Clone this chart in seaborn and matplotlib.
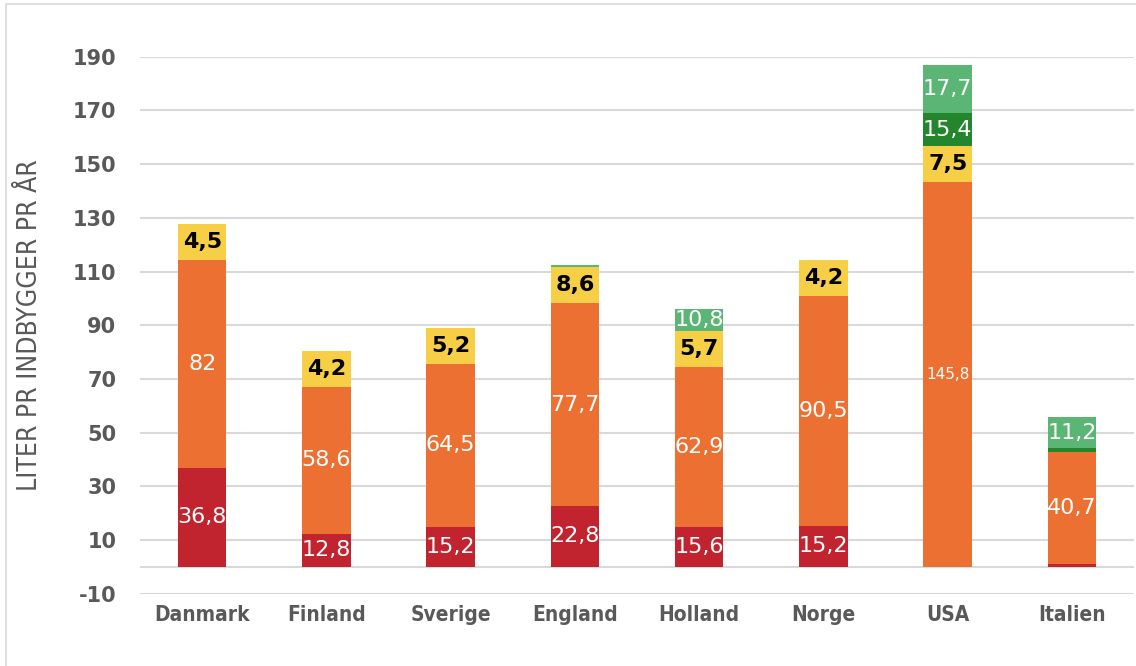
import numpy as np
import seaborn as sns
import matplotlib.pyplot as plt
from matplotlib.patches import Rectangle

countries = ['Danmark', 'Finland', 'Sverige', 'England', 'Holland', 'Norge', 'USA', 'Italien']

# segment heights as drawn in the picture (bottom -> top)
red = [37.0, 12.4, 15.0, 22.7, 15.0, 15.2, 0.0, 1.0]
orange = [77.3, 54.6, 60.5, 75.5, 59.4, 85.6, 143.3, 41.7]
yellow = [13.4, 13.4, 13.4, 13.5, 13.4, 13.5, 13.3, 0.0]
dark_green = [0.0, 0.0, 0.0, 0.0, 0.0, 0.0, 12.4, 1.6]
light_green = [0.0, 0.0, 0.0, 0.6, 8.4, 0.0, 17.9, 11.4]

# data labels as printed
red_lbl = ['36,8', '12,8', '15,2', '22,8', '15,6', '15,2', '', '']
orange_lbl = ['82', '58,6', '64,5', '77,7', '62,9', '90,5', '145,8', '40,7']
yellow_lbl = ['4,5', '4,2', '5,2', '8,6', '5,7', '4,2', '7,5', '']
dark_green_lbl = ['', '', '', '', '', '', '15,4', '']
light_green_lbl = ['', '', '', '', '10,8', '', '17,7', '11,2']

series = [
    (red, red_lbl, '#C1232F', 'white', 'normal'),
    (orange, orange_lbl, '#EC7032', 'white', 'normal'),
    (yellow, yellow_lbl, '#F6CF47', 'black', 'bold'),
    (dark_green, dark_green_lbl, '#23862C', 'white', 'normal'),
    (light_green, light_green_lbl, '#5BB574', 'white', 'normal'),
]

sns.set_style('white')
plt.rcParams['font.family'] = ['DejaVu Sans']
plt.rcParams['axes.unicode_minus'] = False

fig = plt.figure(figsize=(11.36, 6.66), dpi=100)
ax = fig.add_axes([140 / 1136, 1 - 593.7 / 666, 994 / 1136, (593.7 - 56.7) / 666])

bottom = np.zeros(len(countries))
for vals, lbls, col, tcol, weight in series:
    vals = np.array(vals)
    sns.barplot(x=countries, y=vals, bottom=bottom, color=col, width=0.39,
                saturation=1, ax=ax, zorder=3, linewidth=0)
    for i, (v, t) in enumerate(zip(vals, lbls)):
        if t:
            size = 11 if t == '145,8' else 16
            ax.text(i, bottom[i] + v / 2, t, ha='center', va='center',
                    color=tcol, fontsize=size, fontweight=weight, zorder=5)
    bottom = bottom + vals

ax.set_ylim(-10, 190)
ax.set_xlim(-0.5, len(countries) - 0.5)
ax.set_yticks(np.arange(-10, 191, 20))
for y in list(np.arange(-10, 191, 20)) + [0]:
    ax.axhline(y, color='#D9D9D9', lw=1.5, zorder=1)

for s in ax.spines.values():
    s.set_visible(False)
ax.tick_params(axis='both', length=0)
ax.tick_params(axis='y', pad=17, labelsize=15, labelcolor='#595959')
ax.tick_params(axis='x', pad=8)
for lab in ax.get_yticklabels():
    lab.set_fontweight('semibold')
for lab in ax.get_xticklabels():
    lab.set_fontstretch('condensed')
    lab.set_fontsize(15)
    lab.set_fontweight('bold')
    lab.set_color('#595959')

ax.set_ylabel('')
fig.text(30 / 1136, 1 - 325 / 666, 'LITER PR INDBYGGER PR ÅR', rotation=90,
         ha='center', va='center', fontsize=19, color='#595959',
         fontstretch='condensed')

# thin chart-area border
fig.patches.append(Rectangle((6 / 1136, -0.1), 1.2, 1 - 4 / 666 + 0.1,
                             transform=fig.transFigure, fill=False,
                             edgecolor='#D9D9D9', lw=1.2))

fig.savefig('out.png', dpi=100)
